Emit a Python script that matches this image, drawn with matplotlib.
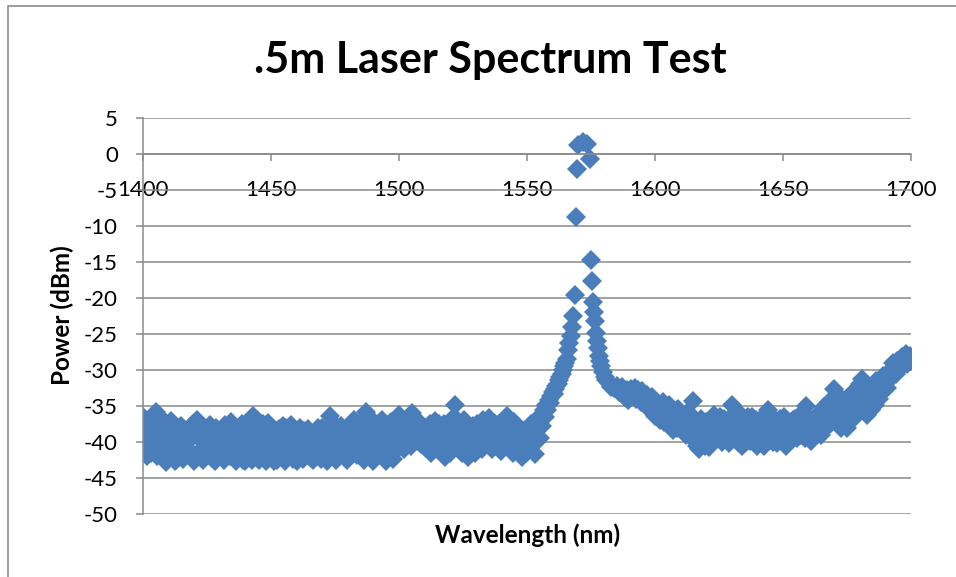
import matplotlib
matplotlib.use("Agg")
import matplotlib.pyplot as plt
import numpy as np
from matplotlib.patches import Rectangle

# baseline noise floor, 1 nm grid
base_wl = np.arange(1400, 1553)
base_dbm = [
    -36.5, -40.2, -38.0, -41.5, -39.0, -35.9, -37.5, -41.0, -39.5, -42.8,
    -38.5, -37.1, -40.5, -42.5, -39.0, -37.8, -41.8, -40.0, -38.2, -42.0,
    -42.7, -36.9, -39.5, -41.2, -38.0, -40.8, -37.6, -42.2, -42.7, -39.3,
    -41.0, -38.5, -37.6, -40.2, -42.0, -39.0, -38.0, -41.5, -40.0, -42.5,
    -42.7, -39.5, -38.2, -36.4, -40.5, -41.8, -38.8, -37.5, -42.7, -37.4,
    -40.0, -42.6, -39.0, -38.2, -41.0, -40.5, -38.0, -42.0, -37.6, -40.8,
    -42.6, -39.5, -41.2, -38.5, -40.0, -42.0, -39.2, -38.8, -41.5, -39.8,
    -38.0, -40.5, -42.6, -36.4, -39.2, -41.0, -38.5, -40.2, -41.8, -38.3,
    -40.0, -42.0, -39.0, -37.5, -41.2, -38.8, -40.5, -35.8, -38.5, -41.0,
    -42.6, -39.5, -37.8, -40.8, -38.6, -42.6, -39.8, -37.2, -41.4, -40.0,
    -36.3, -39.0, -41.0, -38.0, -39.6, -36.0, -40.0, -38.5, -37.2, -39.5,
    -38.0, -40.5, -37.5, -39.8, -37.1, -41.0, -38.5, -40.0, -42.1, -39.0,
    -41.5, -38.0, -34.8, -37.5, -39.8, -41.0, -38.2, -42.1, -40.0, -37.8,
    -39.5, -40.9, -38.0, -37.0, -40.2, -36.6, -39.0, -38.2, -40.5, -37.5,
    -41.2, -39.0, -36.4, -38.8, -40.0, -37.2, -39.5, -41.0, -42.1, -38.5,
    -40.0, -41.0, -38.5,
]
# half-nm readings in between
base2_wl = np.arange(1400.5, 1552, 1.0)
base2_dbm = [
    -39.0, -42.0, -37.0, -40.5, -37.5, -42.0, -39.8, -36.8, -41.2, -38.0,
    -41.5, -39.5, -42.6, -38.0, -40.8, -42.4, -38.5, -41.0, -39.5, -37.5,
    -39.0, -41.5, -37.8, -42.5, -40.0, -38.5, -41.5, -39.5, -38.0, -41.8,
    -39.5, -42.5, -40.5, -38.5, -37.2, -41.8, -42.6, -39.0, -37.5, -40.5,
    -38.5, -41.0, -42.5, -39.0, -37.0, -42.5, -40.5, -39.0, -40.0, -41.5,
    -38.5, -40.8, -42.5, -39.8, -37.8, -42.6, -40.5, -39.5, -42.4, -38.5,
    -40.5, -38.0, -42.4, -39.8, -38.2, -41.0, -42.5, -40.2, -38.0, -42.3,
    -41.8, -38.5, -39.5, -40.5, -37.5, -42.5, -39.8, -37.8, -40.0, -42.5,
    -38.5, -40.5, -37.0, -41.8, -39.5, -37.2, -42.5, -38.0, -40.5, -37.0,
    -40.0, -41.8, -39.2, -37.0, -41.5, -40.2, -38.0, -42.4, -38.2, -37.5,
    -40.5, -37.5, -39.8, -36.8, -40.5, -38.0, -37.5, -39.8, -40.3, -38.0,
    -40.8, -38.5, -41.5, -38.0, -39.5, -37.5, -40.8, -37.5, -41.0, -38.5,
    -39.5, -36.5, -40.0, -38.0, -41.5, -37.0, -39.5, -40.5, -38.5, -41.5,
    -37.5, -39.5, -41.0, -38.5, -37.8, -40.5, -41.0, -37.5, -39.5, -40.8,
    -38.0, -40.5, -38.5, -37.5, -41.5, -39.5, -38.0, -40.2, -39.0, -41.5,
    -39.0, -37.5,
]

# laser line, finer sampling around the peak
peak_wl = [
    1553, 1553.5, 1554, 1554.5, 1555, 1555.5, 1556, 1556.5, 1557, 1557.5,
    1558, 1558.5, 1559, 1559.5, 1560, 1560.5, 1561, 1561.5, 1562, 1562.5,
    1563, 1563.5, 1564, 1564.5, 1565, 1565.5, 1566, 1566.5, 1567, 1567.5,
    1568, 1568.7, 1569.3, 1569.5, 1570, 1572, 1573.5, 1574.5, 1575, 1575.4,
    1575.8, 1576.2, 1576.5, 1577, 1577.4, 1577.8, 1578.2, 1578.6, 1579, 1579.6,
    1580.3, 1581, 1582, 1583, 1584, 1585, 1586, 1587,
]
peak_dbm = [
    -41.6, -40.0, -38.2, -37.0, -39.5, -36.2, -37.8, -35.6, -36.5, -34.8,
    -35.5, -34.2, -34.6, -33.6, -33.0, -33.4, -32.6, -32.2, -32.0, -31.4,
    -31.0, -30.5, -30.0, -29.4, -29.0, -28.5, -27.2, -26.2, -25.3, -24.0,
    -22.5, -19.6, -8.8, -2.1, 1.2, 1.7, 1.4, -0.7, -14.7, -17.6,
    -20.6, -22.0, -23.2, -24.8, -26.0, -26.9, -28.0, -28.8, -29.5, -30.3,
    -31.0, -31.4, -31.8, -32.3, -32.5, -32.2, -33.1, -32.4,
]

# long-wavelength side, 1 nm grid
tail_wl = np.arange(1588, 1701)
tail_dbm = [
    -33.6, -32.8, -34.0, -33.2, -32.5, -33.8, -33.0, -32.9, -34.2, -33.5,
    -34.6, -33.8, -36.4, -35.0, -37.0, -34.5, -36.0, -37.5, -35.5, -38.4,
    -36.2, -35.4, -37.8, -36.5, -39.0, -35.8, -37.5, -34.3, -38.5, -41.0,
    -36.8, -39.5, -37.2, -40.7, -38.0, -36.2, -39.5, -37.5, -40.0, -36.8,
    -38.5, -40.2, -34.8, -37.8, -39.0, -36.0, -40.5, -38.0, -37.0, -39.8,
    -36.5, -38.8, -40.5, -37.5, -39.0, -36.2, -35.5, -38.2, -40.0, -37.0,
    -39.2, -36.8, -38.5, -40.5, -37.8, -39.5, -37.0, -38.8, -36.5, -39.0,
    -37.5, -35.0, -38.2, -39.8, -37.0, -38.5, -36.0, -39.0, -35.2, -37.5,
    -34.5, -36.8, -32.7, -35.5, -37.0, -34.0, -36.2, -38.0, -35.0, -33.2,
    -36.5, -34.5, -32.0, -31.3, -34.0, -36.3, -33.5, -32.5, -34.8, -31.8,
    -33.0, -30.8, -32.0, -31.5, -30.0, -29.0, -30.5, -29.5, -28.5, -29.0,
    -27.8, -28.3, -28.8,
]
tail2_wl = np.arange(1588.5, 1700, 1.0)
tail2_dbm = [
    -33.0, -34.2, -32.6, -33.5, -34.0, -32.8, -34.4, -33.4, -35.0, -34.0,
    -35.5, -36.0, -34.8, -36.5, -35.5, -37.2, -36.5, -34.8, -36.8, -37.5,
    -38.0, -36.8, -37.2, -38.5, -37.0, -36.5, -39.5, -37.0, -40.5, -39.0,
    -38.0, -40.5, -39.0, -38.5, -40.0, -37.2, -38.5, -36.5, -39.5, -38.0,
    -37.0, -39.5, -38.0, -36.5, -40.0, -37.5, -39.0, -40.0, -36.5, -38.5,
    -40.0, -37.0, -39.0, -38.0, -40.5, -37.2, -36.5, -39.5, -38.5, -40.2,
    -37.5, -39.8, -36.5, -38.0, -40.0, -38.5, -36.8, -39.5, -38.0, -37.0,
    -39.5, -36.5, -37.8, -39.5, -36.8, -38.8, -37.0, -38.2, -36.5, -36.0,
    -37.5, -35.0, -36.0, -34.5, -38.0, -35.5, -37.2, -34.2, -36.8, -35.5,
    -33.5, -35.5, -33.2, -35.0, -32.8, -34.5, -35.5, -33.0, -31.5, -34.0,
    -32.0, -31.0, -32.5, -30.5, -29.8, -30.2, -28.8, -29.8, -28.2, -28.6,
    -29.2, -28.0,
]

wl = np.concatenate([base_wl, base2_wl, peak_wl, tail_wl, tail2_wl])
dbm = np.concatenate([base_dbm, base2_dbm, peak_dbm, tail_dbm, tail2_dbm])
order = np.argsort(wl, kind='stable')
wl, dbm = wl[order], dbm[order]

plt.rcParams['font.family'] = ['Lato', 'DejaVu Sans']
plt.rcParams['axes.unicode_minus'] = False

fig = plt.figure(figsize=(9.56, 5.77), dpi=100)
ax = fig.add_axes([143 / 956, 1 - 514 / 577, 768 / 956, 396 / 577])

# chart area border
fig.patches.append(Rectangle((8 / 956, -0.1), 1.2, 1.1 - 6 / 577,
                             transform=fig.transFigure, fill=False,
                             edgecolor='#8c8c8c', linewidth=1.2))

ax.plot(wl, dbm, linestyle='none', marker='D', markersize=10,
        color='#4a7ebb', markeredgewidth=0)

ax.set_xlim(1400, 1700)
ax.set_ylim(-50, 5)
ax.set_xticks(np.arange(1400, 1701, 50))
ax.set_yticks(np.arange(-50, 6, 5))

ax.yaxis.grid(True, color='#8a8a8a', linewidth=1.1)
ax.set_axisbelow(True)

for s in ['top', 'right']:
    ax.spines[s].set_visible(False)
ax.spines['bottom'].set_position(('data', 0))
ax.spines['bottom'].set_color('#8a8a8a')
ax.spines['left'].set_color('#8a8a8a')
ax.spines['bottom'].set_linewidth(1.1)
ax.spines['left'].set_linewidth(1.1)

ax.tick_params(axis='x', direction='out', length=5, width=1.1, color='#8a8a8a',
               pad=14, labelsize=16)
ax.tick_params(axis='y', direction='out', length=5, width=1.1, color='#8a8a8a',
               pad=13, labelsize=16)

fig.text(490 / 956, 1 - 60 / 577, '.5m Laser Spectrum Test', ha='center',
         va='center', fontsize=31, fontweight='bold')
fig.text(528 / 956, 1 - 535 / 577, 'Wavelength (nm)', ha='center',
         va='center', fontsize=17.5, fontweight='bold')
fig.text(62 / 956, 1 - 315 / 577, 'Power (dBm)', ha='center',
         va='center', rotation=90, fontsize=17.5, fontweight='bold')

fig.savefig('out.png', dpi=100)
